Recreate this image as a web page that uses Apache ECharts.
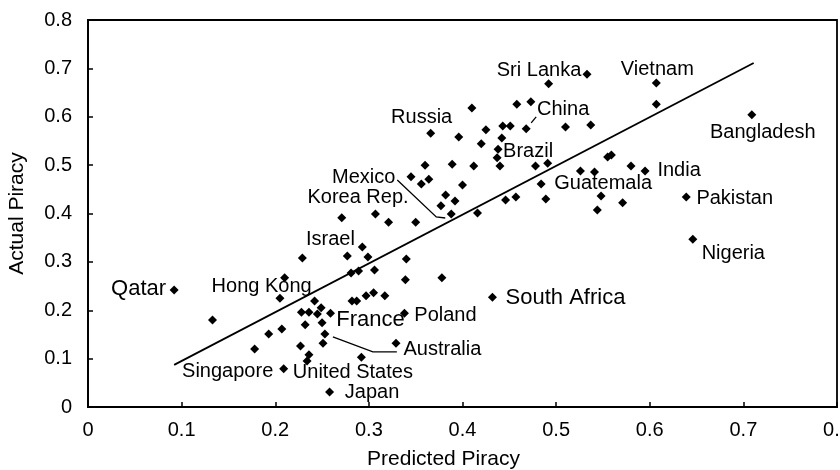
<!DOCTYPE html>
<html>
<head>
<meta charset="utf-8">
<script src="https://cdn.jsdelivr.net/npm/echarts@6/dist/echarts.min.js"></script>
<style>
  html, body { margin: 0; padding: 0; background: #fff; }
  #chart { width: 840px; height: 470px; }
</style>
</head>
<body>
<div id="chart"></div>
<script>
// Countries that carry a name label
const labeledCountries = ['Qatar', 'Hong Kong', 'Israel', 'Singapore', 'United States', 'Japan',
  'France', 'Poland', 'Australia', 'South Africa', 'Korea Rep.', 'Mexico', 'Russia', 'China',
  'Brazil', 'Sri Lanka', 'Vietnam', 'Bangladesh', 'India', 'Guatemala', 'Pakistan', 'Nigeria'];
const labeledPredicted = [0.092, 0.210, 0.229, 0.209, 0.292, 0.258,
  0.259, 0.338, 0.253, 0.432, 0.345, 0.388, 0.366, 0.468,
  0.438, 0.533, 0.607, 0.709, 0.595, 0.484, 0.639, 0.646];
const labeledActual = [0.242, 0.267, 0.308, 0.079, 0.103, 0.031,
  0.194, 0.194, 0.151, 0.227, 0.476, 0.399, 0.566, 0.575,
  0.533, 0.688, 0.670, 0.604, 0.488, 0.461, 0.434, 0.347];

// Remaining countries, unlabeled
const otherPredicted = [0.133, 0.178, 0.193, 0.207, 0.205, 0.227, 0.236, 0.234, 0.232, 0.228,
  0.236, 0.245, 0.242, 0.249, 0.250, 0.251, 0.277, 0.293, 0.299, 0.281,
  0.289, 0.306, 0.282, 0.287, 0.297, 0.305, 0.317, 0.329, 0.340, 0.339,
  0.378, 0.271, 0.307, 0.321, 0.350, 0.364, 0.356, 0.360, 0.389, 0.412,
  0.400, 0.382, 0.392, 0.377, 0.416, 0.396, 0.410, 0.420, 0.425, 0.443,
  0.451, 0.458, 0.473, 0.442, 0.437, 0.440, 0.478, 0.491, 0.510, 0.537,
  0.492, 0.607, 0.446, 0.457, 0.489, 0.555, 0.559, 0.526, 0.541, 0.580,
  0.548, 0.571, 0.544];
const otherActual = [0.180, 0.120, 0.151, 0.161, 0.225, 0.126, 0.108, 0.095, 0.170, 0.196,
  0.196, 0.192, 0.219, 0.205, 0.174, 0.132, 0.312, 0.331, 0.310, 0.277,
  0.281, 0.283, 0.219, 0.219, 0.230, 0.236, 0.230, 0.132, 0.306, 0.263,
  0.267, 0.391, 0.399, 0.382, 0.382, 0.471, 0.461, 0.500, 0.502, 0.498,
  0.459, 0.438, 0.426, 0.416, 0.401, 0.558, 0.618, 0.544, 0.573, 0.581,
  0.581, 0.626, 0.631, 0.556, 0.515, 0.498, 0.498, 0.504, 0.579, 0.583,
  0.668, 0.626, 0.428, 0.434, 0.430, 0.517, 0.521, 0.488, 0.486, 0.498,
  0.436, 0.422, 0.407];

// Fitted line end points
const fitPredicted = [0.092, 0.711];
const fitActual = [0.087, 0.711];

// Axis ticks
const axisMin = 0, axisMax = 0.8, axisStep = 0.1;

// Label placement (pixel offset of the label centre from its marker)
const labelOffsets = {
  'Qatar': [-35.5, -1], 'Hong Kong': [-23, 9], 'Israel': [28, -19], 'Singapore': [-56, 3],
  'United States': [-8.5, 15], 'Japan': [42.5, 0], 'France': [40, 7], 'Poland': [41, 2],
  'Australia': [117.5, 16], 'South Africa': [73, 1], 'Korea Rep.': [-53, 21],
  'Mexico': [-87.5, -36], 'Russia': [-9, -16], 'China': [37, -19], 'Brazil': [30, 2],
  'Sri Lanka': [-48, -4], 'Vietnam': [1, -13], 'Bangladesh': [11, 18], 'India': [34, 0],
  'Guatemala': [62, -1], 'Pakistan': [48.5, 1], 'Nigeria': [40.5, 14]
};
const largeLabels = { 'Qatar': 22, 'France': 22, 'South Africa': 22 };
// Leader lines: pixel offsets from the marker
const leaders = {
  'Mexico': [[-6, 4], [-15, 3], [-54, -34]],
  'Australia': [[8, 3], [48, 18], [72, 18]],
  'China': [[5, -6], [10, -12]]
};

const FONT = "'Liberation Sans', Arial, sans-serif";
const INK = '#000';
const chart = echarts.init(document.getElementById('chart'), null, { renderer: 'canvas' });

const labeledData = labeledCountries.map((name, i) => ({
  name: name,
  value: [labeledPredicted[i], labeledActual[i]],
  label: {
    show: true,
    position: 'inside',
    formatter: name,
    offset: labelOffsets[name],
    color: INK,
    opacity: 1,
    textBorderWidth: 0,
    fontFamily: FONT,
    fontSize: largeLabels[name] || 20
  }
}));
const otherData = otherPredicted.map((x, i) => [x, otherActual[i]]);
const fitData = fitPredicted.map((x, i) => [x, fitActual[i]]);

const axisCommon = {
  min: axisMin, max: axisMax, interval: axisStep,
  axisLine: { show: true, lineStyle: { color: INK, width: 1.8 } },
  axisTick: { show: true, inside: true, length: 5, lineStyle: { color: INK, width: 1.5 } },
  splitLine: { show: false },
  nameLocation: 'middle',
  nameTextStyle: { color: INK, fontSize: 21, fontFamily: FONT }
};

chart.setOption({
  animation: false,
  backgroundColor: '#fff',
  grid: {
    left: 88, right: 3, top: 20, bottom: 63,
    containLabel: false, outerBoundsMode: 'none',
    show: true, borderColor: INK, borderWidth: 1.8
  },
  xAxis: Object.assign({}, axisCommon, {
    type: 'value',
    name: 'Predicted Piracy',
    nameGap: 42,
    nameTextStyle: Object.assign({}, axisCommon.nameTextStyle, { padding: [0, 38, 0, 0] }),
    axisLabel: { color: INK, fontSize: 20, fontFamily: FONT, margin: 13, alignMaxLabel: 'center' }
  }),
  yAxis: Object.assign({}, axisCommon, {
    type: 'value',
    name: 'Actual Piracy',
    nameGap: 60,
    axisLabel: { color: INK, fontSize: 20, fontFamily: FONT, margin: 16 }
  }),
  series: [
    {
      type: 'line',
      data: fitData,
      showSymbol: false,
      symbol: 'none',
      lineStyle: { color: INK, width: 1.8 },
      emphasis: { disabled: true },
      z: 1
    },
    {
      type: 'scatter',
      data: otherData,
      symbol: 'diamond',
      symbolSize: 9,
      itemStyle: { color: INK, opacity: 1 },
      emphasis: { disabled: true },
      z: 2
    },
    {
      type: 'scatter',
      data: labeledData,
      symbol: 'diamond',
      symbolSize: 9,
      itemStyle: { color: INK, opacity: 1 },
      emphasis: { disabled: true },
      z: 3
    }
  ]
});

// Leader lines from labels to their markers
const leaderGraphics = Object.keys(leaders).map(name => {
  const i = labeledCountries.indexOf(name);
  const p = chart.convertToPixel({ gridIndex: 0 }, [labeledPredicted[i], labeledActual[i]]);
  return {
    type: 'polyline',
    shape: { points: leaders[name].map(o => [p[0] + o[0], p[1] + o[1]]) },
    style: { stroke: INK, lineWidth: 1.3, fill: null },
    z: 5
  };
});
chart.setOption({ graphic: leaderGraphics });
</script>
</body>
</html>
